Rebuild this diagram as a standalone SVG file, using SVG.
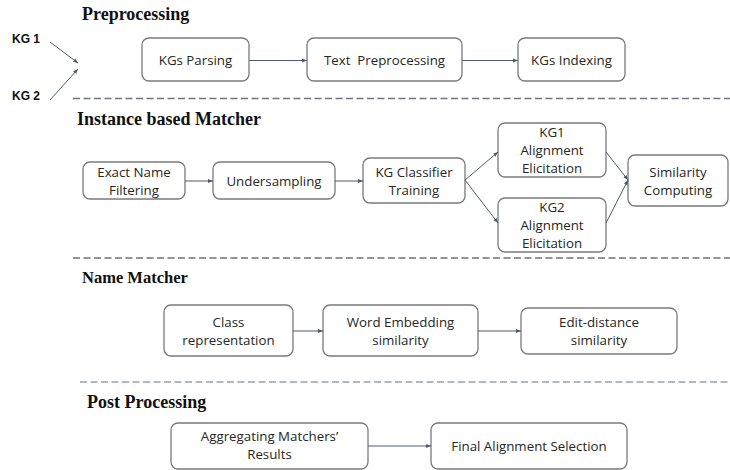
<svg xmlns="http://www.w3.org/2000/svg" width="730" height="470" viewBox="0 0 730 470">
<defs>
<marker id="ah" viewBox="0 0 10 10" refX="10" refY="5" markerWidth="5" markerHeight="5" markerUnits="userSpaceOnUse" orient="auto">
<path d="M0,1 L10,5 L0,9 z" fill="#4a5b76"/>
</marker>
<style>
.box{fill:#fff;stroke:#7a7a7a;stroke-width:1.3}
.t{font-family:"Open Sans","Liberation Sans",sans-serif;font-size:13.3px;fill:#262626;text-anchor:middle}
.h{font-family:"Liberation Serif",serif;font-size:18px;font-weight:bold;fill:#111}
.kg{font-family:"Liberation Sans",sans-serif;font-size:12px;font-weight:bold;fill:#111}
.c{stroke:#4a5b76;stroke-width:1;fill:none;marker-end:url(#ah)}
.d{stroke:#6b7482;stroke-width:1.3;stroke-dasharray:7,3.5;fill:none}
</style>
</defs>
<rect width="730" height="470" fill="#fff"/>
<text class="h" x="82" y="20">Preprocessing</text>
<text class="h" x="77" y="125">Instance based Matcher</text>
<text class="h" x="82" y="283" style="font-size:16.5px">Name Matcher</text>
<text class="h" x="87" y="408">Post Processing</text>
<text class="kg" x="12" y="43">KG 1</text>
<text class="kg" x="12" y="100">KG 2</text>
<g id="dividers">
<line class="d" x1="73" y1="98.5" x2="730" y2="98.5"/>
<line class="d" x1="73" y1="258" x2="730" y2="258"/>
<line class="d" x1="80" y1="382" x2="730" y2="382" style="stroke:#9aa3ae"/>
</g>
<g id="n-parse"><rect class="box" x="142" y="38" width="107" height="43" rx="7"/><text class="t" x="195.5" y="64.5">KGs Parsing</text></g>
<g id="n-text"><rect class="box" x="307" y="38" width="155" height="43" rx="7"/><text class="t" x="384.5" y="64.5" style="white-space:pre">Text  Preprocessing</text></g>
<g id="n-index"><rect class="box" x="518" y="38" width="107" height="43" rx="7"/><text class="t" x="571.5" y="64.5">KGs Indexing</text></g>
<g id="n-exact"><rect class="box" x="83" y="162" width="102" height="37" rx="7"/><text class="t" x="134" y="177">Exact Name</text><text class="t" x="134" y="195">Filtering</text></g>
<g id="n-under"><rect class="box" x="213" y="162" width="122" height="37" rx="7"/><text class="t" x="274" y="186">Undersampling</text></g>
<g id="n-classifier"><rect class="box" x="363" y="158" width="102" height="45" rx="7"/><text class="t" x="414" y="177">KG Classifier</text><text class="t" x="414" y="195">Training</text></g>
<g id="n-kg1"><rect class="box" x="498" y="123" width="108" height="54" rx="7"/><text class="t" x="552" y="137">KG1</text><text class="t" x="552" y="155">Alignment</text><text class="t" x="552" y="173">Elicitation</text></g>
<g id="n-kg2"><rect class="box" x="498" y="198" width="108" height="54" rx="7"/><text class="t" x="552" y="212">KG2</text><text class="t" x="552" y="230">Alignment</text><text class="t" x="552" y="248">Elicitation</text></g>
<g id="n-sim"><rect class="box" x="628" y="155" width="100" height="51" rx="7"/><text class="t" x="678" y="177">Similarity</text><text class="t" x="678" y="195">Computing</text></g>
<g id="n-class"><rect class="box" x="164" y="305" width="129" height="51" rx="7"/><text class="t" x="228.5" y="327">Class</text><text class="t" x="228.5" y="345">representation</text></g>
<g id="n-word"><rect class="box" x="323" y="305" width="155" height="51" rx="7"/><text class="t" x="400.5" y="327">Word Embedding</text><text class="t" x="400.5" y="345">similarity</text></g>
<g id="n-edit"><rect class="box" x="521" y="308" width="156" height="46" rx="7"/><text class="t" x="599" y="327">Edit-distance</text><text class="t" x="599" y="345">similarity</text></g>
<g id="n-agg"><rect class="box" x="171" y="423" width="197" height="46" rx="7"/><text class="t" x="269.5" y="441">Aggregating Matchers’</text><text class="t" x="269.5" y="459">Results</text></g>
<g id="n-final"><rect class="box" x="431" y="423" width="196" height="46" rx="7"/><text class="t" x="529" y="451">Final Alignment Selection</text></g>
<g id="connectors">
<line class="c" x1="50" y1="42" x2="78" y2="63"/>
<line class="c" x1="50" y1="100" x2="78" y2="69"/>
<line class="c" x1="249" y1="60.5" x2="307" y2="60.5"/>
<line class="c" x1="462" y1="60.5" x2="518" y2="60.5"/>
<line class="c" x1="185" y1="181" x2="213" y2="181"/>
<line class="c" x1="335" y1="181" x2="363" y2="181"/>
<line class="c" x1="465" y1="180" x2="498" y2="152"/>
<line class="c" x1="465" y1="180" x2="498" y2="223"/>
<line class="c" x1="606" y1="152" x2="628" y2="180"/>
<line class="c" x1="606" y1="223" x2="628" y2="180"/>
<line class="c" x1="293" y1="331" x2="323" y2="331"/>
<line class="c" x1="478" y1="331" x2="521" y2="331"/>
<line class="c" x1="368" y1="446" x2="431" y2="446"/>
</g>
</svg>
